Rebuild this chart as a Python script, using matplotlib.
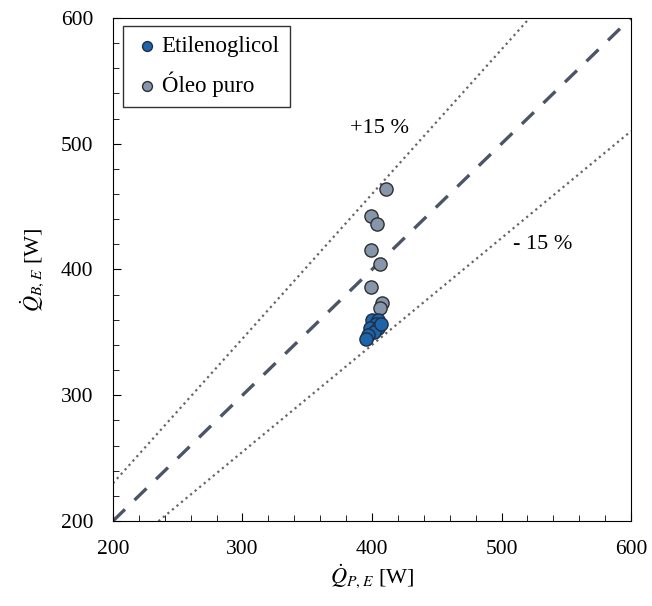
import matplotlib.pyplot as plt
from matplotlib.ticker import MultipleLocator
import numpy as np

# Etilenoglicol (blue) and Óleo puro (gray) points
eg_x = [400, 405, 403, 398.5, 404.5, 401.5, 397, 395.5, 407]
eg_y = [360, 360, 357, 353.5, 353.5, 350, 348, 344.5, 357]
oleo_x = [411, 399, 404, 399, 406, 399, 408, 406]
oleo_y = [464, 442.5, 436, 415.5, 404, 386, 373, 369]

lims = [200, 600]

plt.rcParams['font.family'] = ['Liberation Serif', 'DejaVu Serif']
plt.rcParams['mathtext.fontset'] = 'stix'

fig = plt.figure(figsize=(6.52, 6.06), dpi=100)
ax = fig.add_axes([0.1733, 0.1403, 0.7945, 0.83])

xx = np.array(lims)
ax.plot(xx, xx, ls=(0, (5, 4)), color='#4b5566', lw=2.4, zorder=1)
ax.plot(xx, 1.15 * xx, ls=':', color='#666666', lw=1.6, zorder=1)
ax.plot(xx, 0.85 * xx, ls=':', color='#666666', lw=1.6, zorder=1)

ax.scatter(oleo_x, oleo_y, s=90, color='#8797ab', edgecolor='#2e2e2e',
           linewidth=1.0, zorder=3, label='Óleo puro')
ax.scatter(eg_x, eg_y, s=90, color='#1f63a8', edgecolor='#1e2e44',
           linewidth=1.0, zorder=4, label='Etilenoglicol')

ax.text(406, 512, '+15 %', fontsize=16, ha='center', va='center')
ax.text(509, 420, '- 15 %', fontsize=16, ha='left', va='center')

ax.set_xlim(lims)
ax.set_ylim(lims)
ax.xaxis.set_major_locator(MultipleLocator(100))
ax.yaxis.set_major_locator(MultipleLocator(100))
ax.xaxis.set_minor_locator(MultipleLocator(20))
ax.yaxis.set_minor_locator(MultipleLocator(20))
ax.tick_params(which='both', direction='in', labelsize=15.5, pad=14)
ax.tick_params(which='major', length=6)
ax.tick_params(which='minor', length=4)

ax.set_xlabel(r'$\dot{Q}_{P,E}$ [W]', fontsize=16, labelpad=2)
ax.set_ylabel(r'$\dot{Q}_{B,E}$ [W]', fontsize=16, labelpad=10)

handles, labels = ax.get_legend_handles_labels()
leg = ax.legend(handles[::-1], labels[::-1], loc='upper left', fontsize=16.5,
                frameon=True, fancybox=False, edgecolor='black',
                handletextpad=0.05, handlelength=1.2, markerscale=0.75,
                borderpad=0.45, labelspacing=0.6, borderaxespad=0,
                bbox_to_anchor=(0.019, 0.984))
leg.get_frame().set_linewidth(1.0)

fig.savefig('out.png', dpi=100)
